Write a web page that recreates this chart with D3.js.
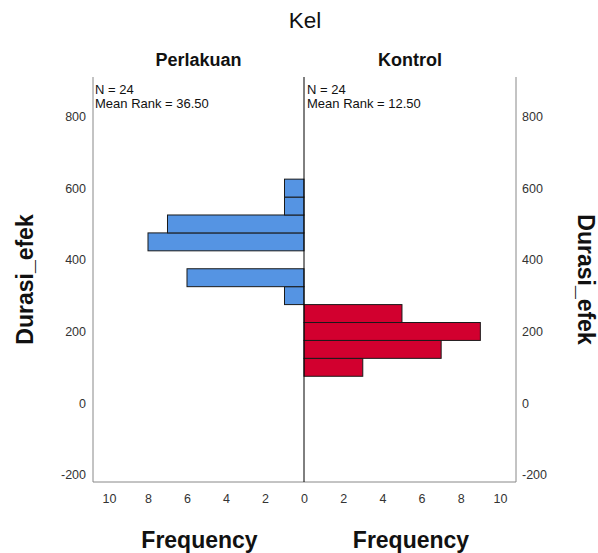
<!DOCTYPE html>
<html>
<head>
<meta charset="utf-8">
<script src="https://cdn.jsdelivr.net/npm/d3@7"></script>
<style>
  body { margin: 0; background: #fff; }
  svg { font-family: "Liberation Sans", Arial, sans-serif; }
</style>
</head>
<body>
<div id="chart"></div>
<script>
// histogram bins (lower edge, width 50)
const binStarts = [75, 125, 175, 225, 275, 325, 375, 425, 475, 525, 575];
const binWidth = 50;
const perlakuanCounts = [0, 0, 0, 0, 1, 6, 0, 8, 7, 1, 1];
const kontrolCounts = [3, 7, 9, 5, 0, 0, 0, 0, 0, 0, 0];
const groups = ['Perlakuan', 'Kontrol'];
const groupStats = [['N = 24', 'Mean Rank = 36.50'], ['N = 24', 'Mean Rank = 12.50']];
const yTicks = [-200, 0, 200, 400, 600, 800];
const freqTicks = [0, 2, 4, 6, 8, 10];

const width = 598, height = 553;
const pLeft = 93, pMid = 304, pRight = 516, pTop = 77, pBottom = 482;

const svg = d3.select('#chart').append('svg')
  .attr('width', width)
  .attr('height', height);

const y = d3.scaleLinear().domain([-220, 910]).range([pBottom, pTop]);
const xL = d3.scaleLinear().domain([0, 10.82]).range([pMid, pLeft]);
const xR = d3.scaleLinear().domain([0, 10.82]).range([pMid, pRight]);

// bars
const bins = binStarts.map((b, i) => ({ lo: b, hi: b + binWidth, p: perlakuanCounts[i], k: kontrolCounts[i] }));

svg.append('g').selectAll('rect')
  .data(bins.filter(d => d.p > 0))
  .enter().append('rect')
  .attr('x', d => xL(d.p))
  .attr('y', d => y(d.hi))
  .attr('width', d => xL(0) - xL(d.p))
  .attr('height', d => y(d.lo) - y(d.hi))
  .attr('fill', '#5594E3')
  .attr('stroke', '#1a1a1a')
  .attr('stroke-width', 1);

svg.append('g').selectAll('rect')
  .data(bins.filter(d => d.k > 0))
  .enter().append('rect')
  .attr('x', xR(0))
  .attr('y', d => y(d.hi))
  .attr('width', d => xR(d.k) - xR(0))
  .attr('height', d => y(d.lo) - y(d.hi))
  .attr('fill', '#D2002F')
  .attr('stroke', '#1a1a1a')
  .attr('stroke-width', 1);

// frame lines
const grey = '#888';
svg.append('line').attr('x1', pLeft).attr('x2', pLeft).attr('y1', pTop).attr('y2', pBottom).attr('stroke', grey);
svg.append('line').attr('x1', pRight).attr('x2', pRight).attr('y1', pTop).attr('y2', pBottom).attr('stroke', grey);
svg.append('line').attr('x1', pLeft).attr('x2', pRight).attr('y1', pBottom).attr('y2', pBottom).attr('stroke', grey);
svg.append('line').attr('x1', pMid).attr('x2', pMid).attr('y1', pTop).attr('y2', pBottom).attr('stroke', '#000');

// axes
const plainNum = d => String(d); // keep ASCII hyphen for negatives
function styleAxis(g) {
  g.select('.domain').remove();
  g.selectAll('text').attr('font-size', 12.5).attr('fill', '#333').attr('font-family', '"Liberation Sans", Arial, sans-serif');
}

svg.append('g').attr('transform', `translate(${pLeft - 7},0)`)
  .call(d3.axisLeft(y).tickValues(yTicks).tickFormat(plainNum).tickSize(0).tickPadding(0))
  .call(styleAxis);

svg.append('g').attr('transform', `translate(${pRight + 6},0)`)
  .call(d3.axisRight(y).tickValues(yTicks).tickFormat(plainNum).tickSize(0).tickPadding(0))
  .call(styleAxis)
  .selectAll('text').attr('text-anchor', 'start');

svg.append('g').attr('transform', `translate(0,${pBottom + 12})`)
  .call(d3.axisBottom(xL).tickValues(freqTicks.slice(1)).tickFormat(plainNum).tickSize(0).tickPadding(0))
  .call(styleAxis);

svg.append('g').attr('transform', `translate(0,${pBottom + 12})`)
  .call(d3.axisBottom(xR).tickValues(freqTicks).tickFormat(plainNum).tickSize(0).tickPadding(0))
  .call(styleAxis);

// titles
svg.append('text').attr('x', 305).attr('y', 28).attr('text-anchor', 'middle')
  .attr('font-size', 22.5).attr('fill', '#111').text('Kel');

const panelCenters = [(pLeft + pMid) / 2, (pMid + pRight) / 2];
svg.selectAll('.grp').data(groups).enter().append('text')
  .attr('x', (d, i) => panelCenters[i]).attr('y', 66)
  .attr('text-anchor', 'middle').attr('font-size', 18).attr('font-weight', 'bold')
  .attr('fill', '#111').text(d => d);

const statX = [pLeft + 2, pMid + 3];
groupStats.forEach((lines, i) => {
  lines.forEach((t, j) => {
    svg.append('text').attr('x', statX[i]).attr('y', 94 + j * 14)
      .attr('font-size', 13).attr('fill', '#111').text(t);
  });
});

svg.selectAll('.freq').data(panelCenters).enter().append('text')
  .attr('x', d => d + 1).attr('y', 548)
  .attr('text-anchor', 'middle').attr('font-size', 23).attr('font-weight', 'bold')
  .attr('fill', '#111').text('Frequency');

svg.append('text').attr('transform', `translate(33,${(pTop + pBottom) / 2}) rotate(-90)`)
  .attr('text-anchor', 'middle').attr('font-size', 23).attr('font-weight', 'bold')
  .attr('fill', '#111').text('Durasi_efek');

svg.append('text').attr('transform', `translate(578,${(pTop + pBottom) / 2}) rotate(90)`)
  .attr('text-anchor', 'middle').attr('font-size', 23).attr('font-weight', 'bold')
  .attr('fill', '#111').text('Durasi_efek');
</script>
</body>
</html>
